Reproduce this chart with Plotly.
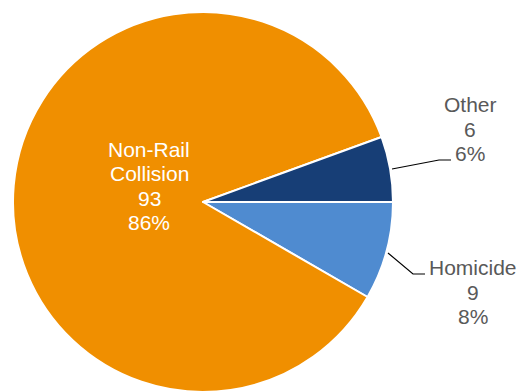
import plotly.graph_objects as go

W, H = 518, 392

# data
labels = ['Homicide', 'Non-Rail Collision', 'Other']
values = [9, 93, 6]
colors = ['#4F8BD0', '#F08F00', '#173E76']
label_lines = [['Homicide', '9', '8%'], ['Non-Rail', 'Collision', '93', '86%'], ['Other', '6', '6%']]
label_px = [(473, 292), (149, 186), (470, 129)]   # label centres (pixels from top-left)
label_col = ['#595959', 'white', '#595959']
LINE_GAP = 24.5


def px(x, y):
    return x / W, 1 - y / H


fig = go.Figure(go.Pie(
    labels=labels, values=values, sort=False, direction='clockwise', rotation=90,
    marker=dict(colors=colors, line=dict(color='white', width=2)),
    textinfo='none', hoverinfo='label+value+percent',
    domain=dict(x=[13 / W, 393 / W], y=[0, 380 / H]),
))

for lines, (x, y), c in zip(label_lines, label_px, label_col):
    y0 = y - LINE_GAP * (len(lines) - 1) / 2
    for i, ln in enumerate(lines):
        ax, ay = px(x, y0 + i * LINE_GAP)
        fig.add_annotation(x=ax, y=ay, xref='paper', yref='paper', text=ln, showarrow=False,
                           xanchor='center', yanchor='middle',
                           font=dict(color=c, size=21))

# leader lines
leaders = [[(392, 169), (439, 160), (451, 160)], [(388, 253), (413, 274), (425, 274)]]
for pts in leaders:
    path = 'M ' + ' L '.join(f'{px(x, y)[0]},{px(x, y)[1]}' for x, y in pts)
    fig.add_shape(type='path', path=path, xref='paper', yref='paper',
                  line=dict(color='black', width=1.2))

fig.update_layout(
    width=W, height=H, margin=dict(l=0, r=0, t=0, b=0),
    showlegend=False, paper_bgcolor='white',
    font=dict(family='Liberation Sans, Arial, sans-serif'),
)

fig.write_html("out.html", config={'displayModeBar': False},
               post_script="document.body.style.margin='0';")
